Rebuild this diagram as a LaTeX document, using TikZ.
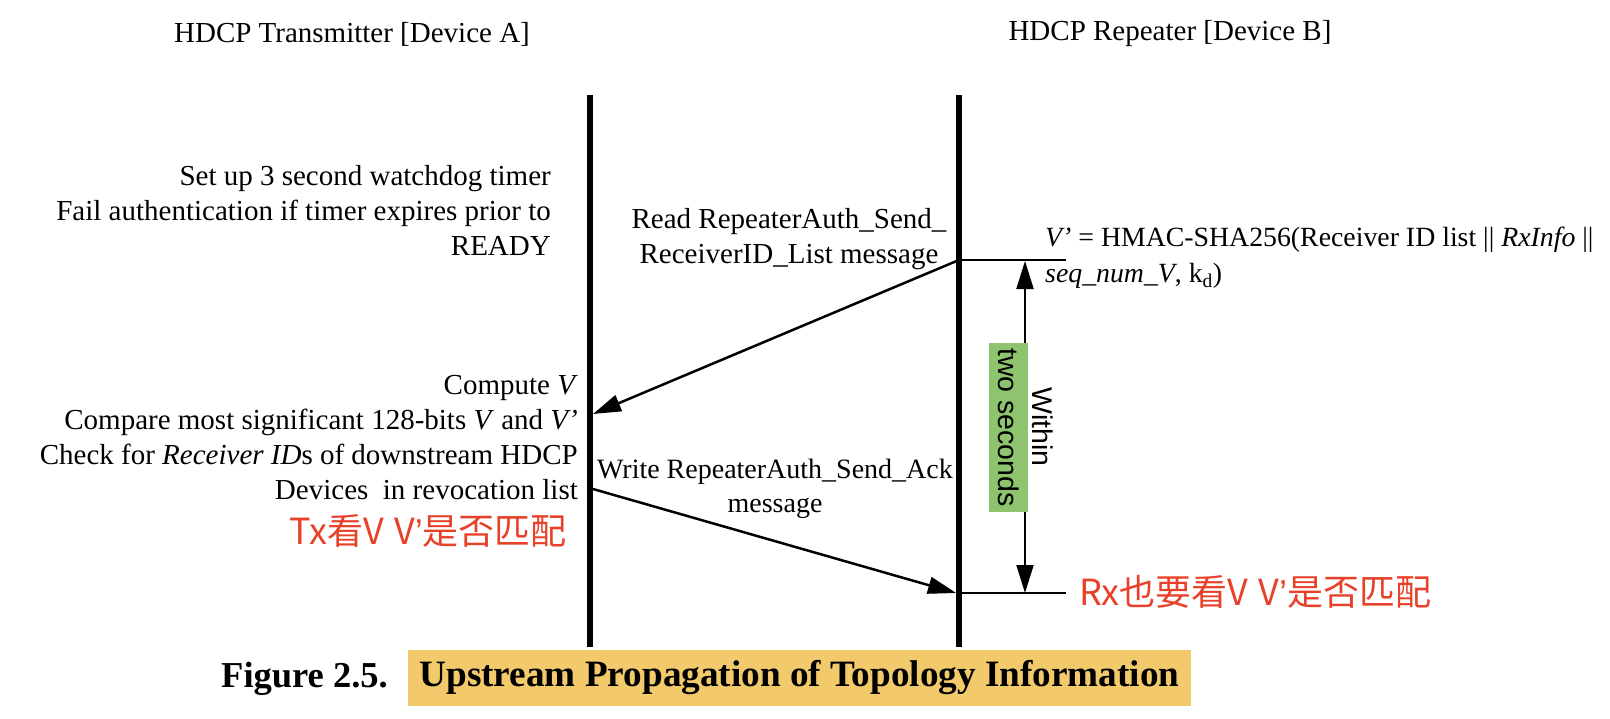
\documentclass[tikz,border=0pt]{standalone}
\usepackage{fontspec}
\setmainfont{Liberation Serif}
\newfontfamily\sansf{Liberation Sans}
\newfontfamily\cjk{Noto Sans CJK SC}
\usetikzlibrary{arrows.meta}
\definecolor{annred}{RGB}{232,65,42}
\definecolor{capyellow}{RGB}{242,202,108}
\definecolor{boxgreen}{RGB}{142,196,110}
\tikzset{
  body/.style={inner sep=0pt, font=\fontsize{29}{35}\selectfont},
  lifeline/.style={line width=6pt},
  msg/.style={line width=2.5pt, -{Triangle[length=28pt,width=17pt]}},
  tickline/.style={line width=2.2pt},
  span/.style={line width=2pt, -{Triangle[length=28pt,width=17pt]}},
  note/.style={inner sep=0pt, text=annred, font=\cjk\fontsize{36}{40}\selectfont},
  vlabel/.style={inner sep=0pt, rotate=-90, font=\sansf\fontsize{28.5}{32}\selectfont},
  captxt/.style={inner sep=0pt, font=\bfseries\fontsize{36.5}{40}\selectfont},
}
\begin{document}
\begin{tikzpicture}[x=1pt,y=-1pt]
\useasboundingbox (0,0) rectangle (1610,718);

% headers
\node[body] (hA) at (352,34) {HDCP Transmitter [Device A]};
\node[body] (hB) at (1170,34) {HDCP Repeater [Device B]};

% lifelines
\coordinate (Atop) at (590,95);
\coordinate (Abot) at (590,647);
\coordinate (Btop) at (959,95);
\coordinate (Bbot) at (959,647);
\draw[lifeline] (Atop) -- (Abot);
\draw[lifeline] (Btop) -- (Bbot);

% left texts
\node[body, align=right, anchor=east] (t1) at (551,210)
  {Set up 3 second watchdog timer\\Fail authentication if timer expires prior to\\READY};
\node[body, align=right, anchor=east] (t2) at (578,438)
  {Compute \textit{V}\\Compare most significant 128-bits \textit{V} and \textit{V’}\\Check for \textit{Receiver ID}s of downstream HDCP\\Devices\ \ in revocation list};
\node[note, anchor=east] (tx) at (567,531) {Tx看V{\sansf\ }V{\sansf ’}是否匹配};

% message 1
\coordinate (m1s) at (959,260);
\coordinate (m1e) at (593,414);
\node[body, align=center] (l1) at (789,239) {Read RepeaterAuth\_Send\_\\ReceiverID\_List message};
\draw[msg] (m1s) -- (m1e);

% V' formula
\node[body, align=left, anchor=west, font=\fontsize{27.8}{36}\selectfont] (vf) at (1045,258)
  {\textit{V’} = HMAC-SHA256(Receiver ID list \textbar\textbar\ \textit{RxInfo} \textbar\textbar\\\textit{seq\_num\_V}, k\textsubscript{d})};

% ticks
\coordinate (k1) at (1066,260);
\coordinate (k2) at (1066,593);
\coordinate (b2) at (959,593);
\draw[tickline] (m1s) -- (k1);
\draw[tickline] (b2) -- (k2);

% message 2
\coordinate (m2s) at (593,489);
\coordinate (m2e) at (956,593);
\node[body, align=center, font=\fontsize{28}{34}\selectfont] (l2) at (775,489) {Write RepeaterAuth\_Send\_Ack\\message};
\draw[msg] (m2s) -- (m2e);

% within two seconds
\coordinate (vt) at (1025,261);
\coordinate (vb) at (1025,593);
\node[vlabel, fill=boxgreen, minimum width=169pt, minimum height=39pt] (gb) at (1008.5,427.5) {two seconds};
\node[vlabel] (wi) at (1043,427) {Within};
\draw[span] (vt |- gb.west) -- (vt);
\draw[span] (vb |- gb.east) -- (vb);

% Rx note
\node[note, anchor=west] (rx) at (1079,592) {Rx也要看V{\sansf\ }V{\sansf ’}是否匹配};

% caption
\node[captxt, anchor=east] (fig) at (388,679) {Figure 2.5.};
\node[captxt, fill=capyellow, minimum width=783pt, minimum height=56pt, font=\bfseries\fontsize{37.2}{40}\selectfont] (cap) at (799.5,678) {Upstream Propagation of Topology Information};
\end{tikzpicture}
\end{document}
